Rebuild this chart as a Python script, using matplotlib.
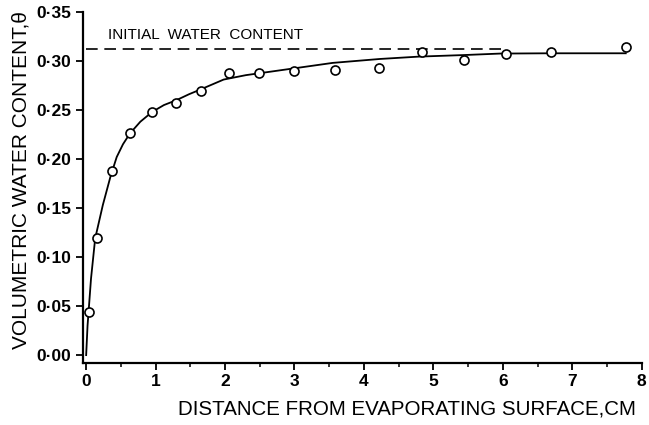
import matplotlib
matplotlib.use("Agg")
import matplotlib.pyplot as plt
from matplotlib.ticker import MultipleLocator, FuncFormatter

plt.rcParams['font.family'] = ['Liberation Sans', 'DejaVu Sans']

# measured points (distance cm, volumetric water content)
dist = [0.04, 0.15, 0.37, 0.63, 0.95, 1.30, 1.65, 2.05, 2.49, 3.00,
        3.59, 4.22, 4.83, 5.44, 6.05, 6.69, 7.77]
theta = [0.0436, 0.119, 0.1874, 0.2265, 0.2477, 0.257, 0.269, 0.2874, 0.2874, 0.290,
         0.291, 0.2925, 0.309, 0.301, 0.3068, 0.309, 0.3146]

# fitted curve
curve_x = [0.0, 0.02, 0.07, 0.13, 0.24, 0.35, 0.44, 0.53, 0.63, 0.78, 0.95, 1.12,
           1.30, 1.48, 1.65, 1.98, 2.30, 2.65, 3.00, 3.55, 4.23, 4.79, 5.44, 5.96,
           6.69, 7.77]
curve_y = [0.0, 0.030, 0.078, 0.119, 0.153, 0.182, 0.202, 0.215, 0.226, 0.238, 0.248, 0.255,
           0.260, 0.266, 0.271, 0.281, 0.2855, 0.289, 0.2925, 0.298, 0.302, 0.3044, 0.306, 0.3075,
           0.3078, 0.3078]

initial_x = [0.0, 6.0]
initial_y = [0.312, 0.312]

fig = plt.figure(figsize=(6.49, 4.25), dpi=100)
ax = fig.add_axes([0.1274, 0.146, 0.8614, 0.826])

ax.plot(curve_x, curve_y, color='black', lw=1.3)
ax.plot(initial_x, initial_y, color='black', lw=1.2, dashes=(7, 4))
ax.plot(dist, theta, 'o', ms=6.5, mfc='white', mec='black', mew=1.2)

ax.text(0.32, 0.3265, 'INITIAL  WATER  CONTENT', fontsize=11, va='center', ha='left')

ax.set_xlim(-0.05, 8.0)
ax.set_ylim(-0.008, 0.35)
ax.spines['top'].set_visible(False)
ax.spines['right'].set_visible(False)
ax.spines['left'].set_linewidth(1.6)
ax.spines['bottom'].set_linewidth(1.6)

ax.xaxis.set_major_locator(MultipleLocator(1))
ax.xaxis.set_minor_locator(MultipleLocator(0.5))
ax.yaxis.set_major_locator(MultipleLocator(0.05))
ax.yaxis.set_major_formatter(FuncFormatter(lambda v, p: ('%.2f' % v).replace('.', '\u00b7')))
ax.tick_params(axis='both', which='major', length=5, width=1.3, labelsize=12.5, pad=3)
ax.tick_params(axis='x', which='minor', length=3, width=1.1)
for lab in ax.get_xticklabels() + ax.get_yticklabels():
    lab.set_fontweight('bold')

ax.set_xlabel('DISTANCE FROM EVAPORATING SURFACE,CM', fontsize=14.8)
ax.xaxis.set_label_coords(0.99, -0.105, transform=ax.transAxes)
ax.xaxis.label.set_ha('right')
ax.set_ylabel('VOLUMETRIC WATER CONTENT,\u03b8', fontsize=15)
ax.yaxis.set_label_coords(-0.093, 0.521)

fig.savefig('out.png', dpi=100)
